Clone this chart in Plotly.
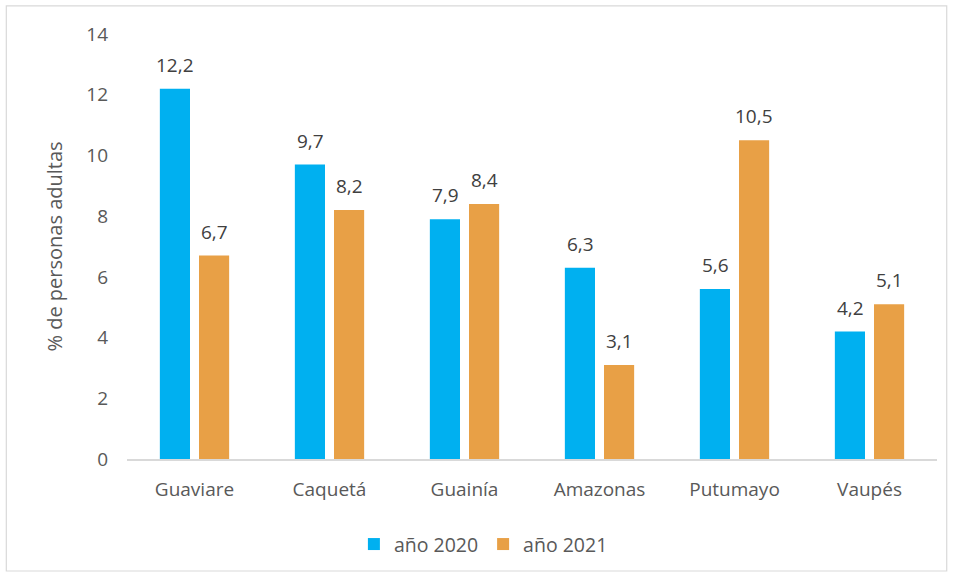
import plotly.graph_objects as go

departamentos = ["Guaviare", "Caquetá", "Guainía", "Amazonas", "Putumayo", "Vaupés"]
valores_2020 = [12.2, 9.7, 7.9, 6.3, 5.6, 4.2]
valores_2021 = [6.7, 8.2, 8.4, 3.1, 10.5, 5.1]
ticks_y = [0, 2, 4, 6, 8, 10, 12, 14]

FONT = "Open Sans"
TXT = "#595959"
SERIES = [("año 2020", valores_2020, "#00B0F0", -19.5),
          ("año 2021", valores_2021, "#E8A046", 19.5)]


def etiqueta(v):
    return f"{v:.1f}".replace(".", ",")


fig = go.Figure()
anotaciones = []
for nombre, valores, color, desplaz in SERIES:
    fig.add_trace(go.Bar(
        x=departamentos, y=valores, name=nombre,
        marker=dict(color=color, line=dict(width=0)),
    ))
    # value labels above each bar, offset to the bar's slot within the group
    for dep, v in zip(departamentos, valores):
        anotaciones.append(dict(
            x=dep, y=v, xref="x", yref="y", text=etiqueta(v), showarrow=False,
            xanchor="center", yanchor="bottom", xshift=desplaz, yshift=9,
            font=dict(family=FONT, size=19, color="#404040"),
        ))

fig.update_layout(
    width=953, height=577,
    margin=dict(l=127, r=16, t=34, b=118),
    paper_bgcolor="white", plot_bgcolor="white",
    barmode="group", bargap=0.42, bargroupgap=0.23,
    font=dict(family=FONT, size=19, color=TXT),
    showlegend=True,
    legend=dict(orientation="h", x=0.44, xanchor="center", y=-0.155, yanchor="top",
                font=dict(family=FONT, size=19.5, color=TXT), itemwidth=30,
                traceorder="normal"),
    xaxis=dict(showgrid=False, showline=True, linecolor="#D9D9D9", linewidth=1.5,
               ticks="", ticklabelstandoff=12,
               tickfont=dict(family=FONT, size=19, color=TXT)),
    yaxis=dict(range=[0, 14], tickvals=ticks_y, showgrid=False, zeroline=False,
               showline=False, ticks="", ticklabelstandoff=18,
               tickfont=dict(family=FONT, size=19, color=TXT),
               title=dict(text="% de personas adultas", standoff=18,
                          font=dict(family=FONT, size=20, color=TXT))),
    annotations=anotaciones,
    shapes=[dict(type="rect", xref="paper", yref="paper",
                 x0=-0.149, x1=1.012, y0=-0.2635, y1=1.066,
                 line=dict(color="#D9D9D9", width=1.2), fillcolor="rgba(0,0,0,0)")],
)

fig.write_html("out.html")
